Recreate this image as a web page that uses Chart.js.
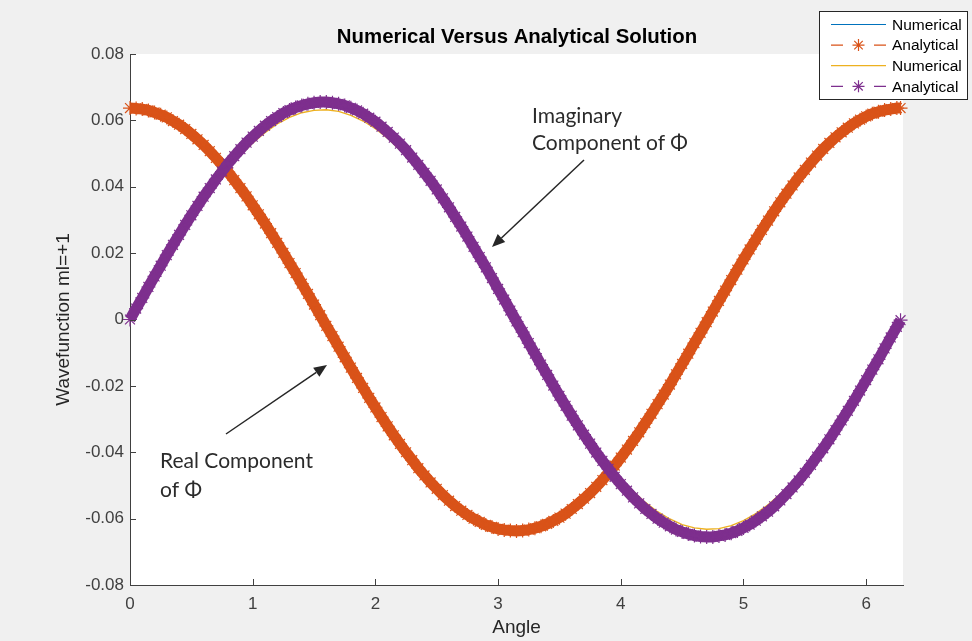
<!DOCTYPE html>
<html>
<head>
<meta charset="utf-8">
<script src="https://cdn.jsdelivr.net/npm/chart.js@4.4.1/dist/chart.umd.min.js"></script>
<style>
  html, body { margin: 0; padding: 0; background: #f0f0f0; }
  canvas { display: block; }
</style>
</head>
<body>
<canvas id="chart" width="972" height="641"></canvas>
<script>
// sample angles of the analytical curves (step 0.05)
const angles = [
  0.00, 0.05, 0.10, 0.15, 0.20, 0.25, 0.30, 0.35, 0.40, 0.45,
  0.50, 0.55, 0.60, 0.65, 0.70, 0.75, 0.80, 0.85, 0.90, 0.95,
  1.00, 1.05, 1.10, 1.15, 1.20, 1.25, 1.30, 1.35, 1.40, 1.45,
  1.50, 1.55, 1.60, 1.65, 1.70, 1.75, 1.80, 1.85, 1.90, 1.95,
  2.00, 2.05, 2.10, 2.15, 2.20, 2.25, 2.30, 2.35, 2.40, 2.45,
  2.50, 2.55, 2.60, 2.65, 2.70, 2.75, 2.80, 2.85, 2.90, 2.95,
  3.00, 3.05, 3.10, 3.15, 3.20, 3.25, 3.30, 3.35, 3.40, 3.45,
  3.50, 3.55, 3.60, 3.65, 3.70, 3.75, 3.80, 3.85, 3.90, 3.95,
  4.00, 4.05, 4.10, 4.15, 4.20, 4.25, 4.30, 4.35, 4.40, 4.45,
  4.50, 4.55, 4.60, 4.65, 4.70, 4.75, 4.80, 4.85, 4.90, 4.95,
  5.00, 5.05, 5.10, 5.15, 5.20, 5.25, 5.30, 5.35, 5.40, 5.45,
  5.50, 5.55, 5.60, 5.65, 5.70, 5.75, 5.80, 5.85, 5.90, 5.95,
  6.00, 6.05, 6.10, 6.15, 6.20, 6.25, 6.28
];

// real part, analytical (orange stars)
const realAnalytical = [
  0.0637, 0.0636, 0.0634, 0.0630, 0.0624, 0.0617, 0.0609, 0.0598, 0.0587, 0.0574,
  0.0559, 0.0543, 0.0526, 0.0507, 0.0487, 0.0466, 0.0444, 0.0420, 0.0396, 0.0371,
  0.0344, 0.0317, 0.0289, 0.0260, 0.0231, 0.0201, 0.0170, 0.0140, 0.0108, 0.0077,
  0.0045, 0.0013, -0.0019, -0.0050, -0.0082, -0.0114, -0.0145, -0.0176, -0.0206, -0.0236,
  -0.0265, -0.0294, -0.0322, -0.0349, -0.0375, -0.0400, -0.0424, -0.0448, -0.0470, -0.0491,
  -0.0510, -0.0529, -0.0546, -0.0562, -0.0576, -0.0589, -0.0600, -0.0610, -0.0619, -0.0625,
  -0.0631, -0.0634, -0.0636, -0.0637, -0.0636, -0.0633, -0.0629, -0.0623, -0.0616, -0.0607,
  -0.0597, -0.0585, -0.0571, -0.0556, -0.0540, -0.0523, -0.0504, -0.0484, -0.0462, -0.0440,
  -0.0416, -0.0392, -0.0366, -0.0340, -0.0312, -0.0284, -0.0255, -0.0226, -0.0196, -0.0165,
  -0.0134, -0.0103, -0.0071, -0.0040, -0.0008, 0.0024, 0.0056, 0.0087, 0.0119, 0.0150,
  0.0181, 0.0211, 0.0241, 0.0270, 0.0298, 0.0326, 0.0353, 0.0379, 0.0404, 0.0428,
  0.0451, 0.0473, 0.0494, 0.0514, 0.0532, 0.0549, 0.0564, 0.0578, 0.0591, 0.0602,
  0.0612, 0.0620, 0.0626, 0.0631, 0.0634, 0.0637, 0.0637
];

// imaginary part, analytical (purple stars)
const imagAnalytical = [
  0.0000, 0.0033, 0.0065, 0.0098, 0.0130, 0.0162, 0.0194, 0.0225, 0.0255, 0.0285,
  0.0314, 0.0342, 0.0370, 0.0396, 0.0422, 0.0446, 0.0470, 0.0492, 0.0513, 0.0533,
  0.0551, 0.0568, 0.0584, 0.0598, 0.0610, 0.0622, 0.0631, 0.0639, 0.0645, 0.0650,
  0.0653, 0.0655, 0.0655, 0.0653, 0.0650, 0.0645, 0.0638, 0.0630, 0.0620, 0.0608,
  0.0596, 0.0581, 0.0565, 0.0548, 0.0530, 0.0510, 0.0488, 0.0466, 0.0442, 0.0418,
  0.0392, 0.0365, 0.0338, 0.0309, 0.0280, 0.0250, 0.0219, 0.0188, 0.0157, 0.0125,
  0.0092, 0.0060, 0.0027, -0.0006, -0.0038, -0.0071, -0.0103, -0.0136, -0.0167, -0.0199,
  -0.0230, -0.0260, -0.0290, -0.0319, -0.0347, -0.0374, -0.0401, -0.0426, -0.0450, -0.0474,
  -0.0496, -0.0516, -0.0536, -0.0554, -0.0571, -0.0586, -0.0600, -0.0612, -0.0623, -0.0633,
  -0.0640, -0.0646, -0.0651, -0.0654, -0.0655, -0.0655, -0.0652, -0.0649, -0.0644, -0.0637,
  -0.0628, -0.0618, -0.0606, -0.0593, -0.0579, -0.0563, -0.0545, -0.0526, -0.0506, -0.0485,
  -0.0462, -0.0438, -0.0413, -0.0388, -0.0361, -0.0333, -0.0304, -0.0275, -0.0245, -0.0214,
  -0.0183, -0.0151, -0.0120, -0.0087, -0.0054, -0.0022, -0.0002
];

// sample angles of the numerical curves (step 0.1)
const numAngles = [
  0.0, 0.1, 0.2, 0.3, 0.4, 0.5, 0.6, 0.7, 0.8, 0.9,
  1.0, 1.1, 1.2, 1.3, 1.4, 1.5, 1.6, 1.7, 1.8, 1.9,
  2.0, 2.1, 2.2, 2.3, 2.4, 2.5, 2.6, 2.7, 2.8, 2.9,
  3.0, 3.1, 3.2, 3.3, 3.4, 3.5, 3.6, 3.7, 3.8, 3.9,
  4.0, 4.1, 4.2, 4.3, 4.4, 4.5, 4.6, 4.7, 4.8, 4.9,
  5.0, 5.1, 5.2, 5.3, 5.4, 5.5, 5.6, 5.7, 5.8, 5.9,
  6.0, 6.1, 6.2, 6.28
];

// real part, numerical (blue line, hidden under the orange stars)
const realNumerical = [
  0.0635, 0.0632, 0.0622, 0.0607, 0.0585, 0.0557, 0.0524, 0.0486, 0.0442, 0.0395,
  0.0343, 0.0288, 0.0230, 0.0170, 0.0108, 0.0045, -0.0019, -0.0082, -0.0144, -0.0205,
  -0.0264, -0.0321, -0.0374, -0.0423, -0.0468, -0.0509, -0.0544, -0.0574, -0.0598, -0.0617,
  -0.0629, -0.0634, -0.0634, -0.0627, -0.0614, -0.0595, -0.0569, -0.0539, -0.0502, -0.0461,
  -0.0415, -0.0365, -0.0311, -0.0255, -0.0195, -0.0134, -0.0071, -0.0008, 0.0056, 0.0118,
  0.0180, 0.0240, 0.0298, 0.0352, 0.0403, 0.0450, 0.0492, 0.0530, 0.0562, 0.0589,
  0.0610, 0.0624, 0.0632, 0.0635
];

// imaginary part, numerical (yellow line)
const imagNumerical = [
  0.0000, 0.0063, 0.0126, 0.0187, 0.0246, 0.0303, 0.0357, 0.0407, 0.0453, 0.0495,
  0.0532, 0.0563, 0.0589, 0.0609, 0.0623, 0.0630, 0.0632, 0.0627, 0.0615, 0.0598,
  0.0575, 0.0546, 0.0511, 0.0471, 0.0427, 0.0378, 0.0326, 0.0270, 0.0212, 0.0151,
  0.0089, 0.0026, -0.0037, -0.0100, -0.0162, -0.0222, -0.0280, -0.0335, -0.0387, -0.0435,
  -0.0478, -0.0517, -0.0551, -0.0579, -0.0601, -0.0618, -0.0628, -0.0632, -0.0630, -0.0621,
  -0.0606, -0.0585, -0.0558, -0.0526, -0.0488, -0.0446, -0.0399, -0.0348, -0.0294, -0.0236,
  -0.0177, -0.0115, -0.0052, -0.0002
];

const xTicks = [0, 1, 2, 3, 4, 5, 6];
const yTicks = [-0.08, -0.06, -0.04, -0.02, 0, 0.02, 0.04, 0.06, 0.08];

const legendLabels = ["Numerical", "Analytical", "Numerical", "Analytical"];
const colors = ["#0072bd", "#d95319", "#edb120", "#7e2f8e"];

const FONT = "'Liberation Sans', Arial, sans-serif";
const NOTE_FONT = "Lato, 'Open Sans', sans-serif";

function pts(xs, ys) {
  return xs.map((x, i) => ({ x: x, y: ys[i] }));
}

function drawStar(ctx, x, y, r) {
  ctx.beginPath();
  ctx.moveTo(x - r, y); ctx.lineTo(x + r, y);
  ctx.moveTo(x, y - r); ctx.lineTo(x, y + r);
  const d = r * Math.SQRT1_2;
  ctx.moveTo(x - d, y - d); ctx.lineTo(x + d, y + d);
  ctx.moveTo(x - d, y + d); ctx.lineTo(x + d, y - d);
  ctx.stroke();
}

function drawArrow(ctx, x1, y1, x2, y2) {
  const a = Math.atan2(y2 - y1, x2 - x1);
  const len = 13, w = 5.5;
  const bx = x2 - len * Math.cos(a), by = y2 - len * Math.sin(a);
  ctx.strokeStyle = "#262626";
  ctx.fillStyle = "#262626";
  ctx.lineWidth = 1.5;
  ctx.beginPath();
  ctx.moveTo(x1, y1);
  ctx.lineTo(bx, by);
  ctx.stroke();
  ctx.beginPath();
  ctx.moveTo(x2, y2);
  ctx.lineTo(bx + w * Math.sin(a), by - w * Math.cos(a));
  ctx.lineTo(bx - w * Math.sin(a), by + w * Math.cos(a));
  ctx.closePath();
  ctx.fill();
}

const backdrop = {
  id: "backdrop",
  beforeDraw(chart) {
    const { ctx, chartArea: a } = chart;
    ctx.save();
    ctx.fillStyle = "#f0f0f0";
    ctx.fillRect(0, 0, chart.width, chart.height);
    ctx.fillStyle = "#ffffff";
    ctx.fillRect(a.left, a.top, a.right - a.left, a.bottom - a.top);
    ctx.restore();
  }
};

const decorations = {
  id: "decorations",
  afterDraw(chart) {
    const { ctx, chartArea: a, scales } = chart;
    ctx.save();

    // inward tick marks
    ctx.strokeStyle = "#404040";
    ctx.lineWidth = 1;
    ctx.beginPath();
    xTicks.forEach(v => {
      const px = Math.round(scales.x.getPixelForValue(v)) + 0.5;
      ctx.moveTo(px, a.bottom);
      ctx.lineTo(px, a.bottom - 6);
    });
    yTicks.forEach(v => {
      const py = Math.round(scales.y.getPixelForValue(v)) + 0.5;
      ctx.moveTo(a.left, py);
      ctx.lineTo(a.left + 6, py);
    });
    ctx.stroke();

    // title
    ctx.fillStyle = "#000000";
    ctx.font = "bold 20.4px " + FONT;
    ctx.textAlign = "center";
    ctx.textBaseline = "middle";
    ctx.fillText("Numerical Versus Analytical Solution", (a.left + a.right) / 2 + 0.5, 37);

    // annotations
    ctx.fillStyle = "#2b2b2b";
    ctx.font = "21px " + NOTE_FONT;
    ctx.textAlign = "left";
    ctx.textBaseline = "alphabetic";
    ctx.fillText("Imaginary", 532, 123);
    ctx.fillText("Component of \u03A6", 532, 150);
    ctx.fillText("Real Component", 160, 468);
    ctx.fillText("of \u03A6", 160, 497);
    drawArrow(ctx, 584, 160, 492, 247);
    drawArrow(ctx, 226, 434, 327, 365);

    // legend
    const lx = 819.5, ly = 11.5, lw = 148, lh = 88;
    ctx.fillStyle = "#ffffff";
    ctx.fillRect(lx, ly, lw, lh);
    ctx.strokeStyle = "#262626";
    ctx.lineWidth = 1;
    ctx.strokeRect(lx, ly, lw, lh);
    ctx.font = "15.5px " + FONT;
    ctx.textBaseline = "middle";
    legendLabels.forEach((label, i) => {
      const y = 24.5 + i * 20.6;
      ctx.strokeStyle = colors[i];
      ctx.lineWidth = 1.2;
      ctx.beginPath();
      if (i % 2 === 0) {
        ctx.moveTo(831, y); ctx.lineTo(886, y);
      } else {
        ctx.moveTo(831, y); ctx.lineTo(843, y);
        ctx.moveTo(874, y); ctx.lineTo(886, y);
      }
      ctx.stroke();
      if (i % 2 === 1) drawStar(ctx, 858.5, y, 6);
      ctx.fillStyle = "#000000";
      ctx.fillText(label, 892, y + 1);
    });

    ctx.restore();
  }
};

new Chart(document.getElementById("chart"), {
  type: "scatter",
  data: {
    datasets: [
      {
        label: legendLabels[0],
        data: pts(numAngles, realNumerical),
        showLine: true,
        borderColor: colors[0],
        borderWidth: 1,
        pointRadius: 0,
        order: 4
      },
      {
        // markers are so dense in the original that they merge into a band
        label: legendLabels[1],
        data: pts(angles, realAnalytical),
        showLine: true,
        borderColor: colors[1],
        borderWidth: 11,
        pointStyle: "star",
        pointRadius: 7,
        pointBorderWidth: 1.2,
        pointBorderColor: colors[1],
        pointBackgroundColor: colors[1],
        order: 3
      },
      {
        label: legendLabels[2],
        data: pts(numAngles, imagNumerical),
        showLine: true,
        borderColor: colors[2],
        borderWidth: 1.3,
        pointRadius: 0,
        order: 2
      },
      {
        label: legendLabels[3],
        data: pts(angles, imagAnalytical),
        showLine: true,
        borderColor: colors[3],
        borderWidth: 11,
        pointStyle: "star",
        pointRadius: 7,
        pointBorderWidth: 1.2,
        pointBorderColor: colors[3],
        pointBackgroundColor: colors[3],
        order: 1
      }
    ]
  },
  options: {
    responsive: false,
    animation: false,
    devicePixelRatio: 1,
    layout: { padding: { left: 0, top: 54, right: 69, bottom: 0 } },
    elements: { point: { hoverRadius: 7 } },
    datasets: { scatter: { clip: false } },
    plugins: {
      legend: { display: false },
      title: { display: false },
      tooltip: { enabled: false }
    },
    scales: {
      x: {
        type: "linear",
        min: 0,
        max: 6.3,
        afterFit(scale) { scale.height = 56; },
        afterBuildTicks(scale) { scale.ticks = xTicks.map(v => ({ value: v })); },
        grid: { display: false, drawTicks: false },
        border: { display: true, color: "#404040", width: 1 },
        ticks: {
          padding: 9,
          color: "#404040",
          font: { family: FONT, size: 17 },
          maxRotation: 0
        },
        title: {
          display: true,
          text: "Angle",
          color: "#262626",
          font: { family: FONT, size: 19 },
          padding: { top: 0, bottom: 2 }
        }
      },
      y: {
        min: -0.08,
        max: 0.08,
        afterFit(scale) { scale.width = 130; },
        afterBuildTicks(scale) { scale.ticks = yTicks.map(v => ({ value: v })); },
        grid: { display: false, drawTicks: false },
        border: { display: true, color: "#404040", width: 1 },
        ticks: {
          padding: 6,
          color: "#404040",
          font: { family: FONT, size: 17 },
          callback: v => (Math.abs(v) < 1e-9 ? "0" : v.toFixed(2))
        },
        title: {
          display: true,
          text: "Wavefunction ml=+1",
          color: "#262626",
          font: { family: FONT, size: 19 },
          padding: { top: 52, bottom: 0 }
        }
      }
    }
  },
  plugins: [backdrop, decorations]
});
</script>
</body>
</html>
